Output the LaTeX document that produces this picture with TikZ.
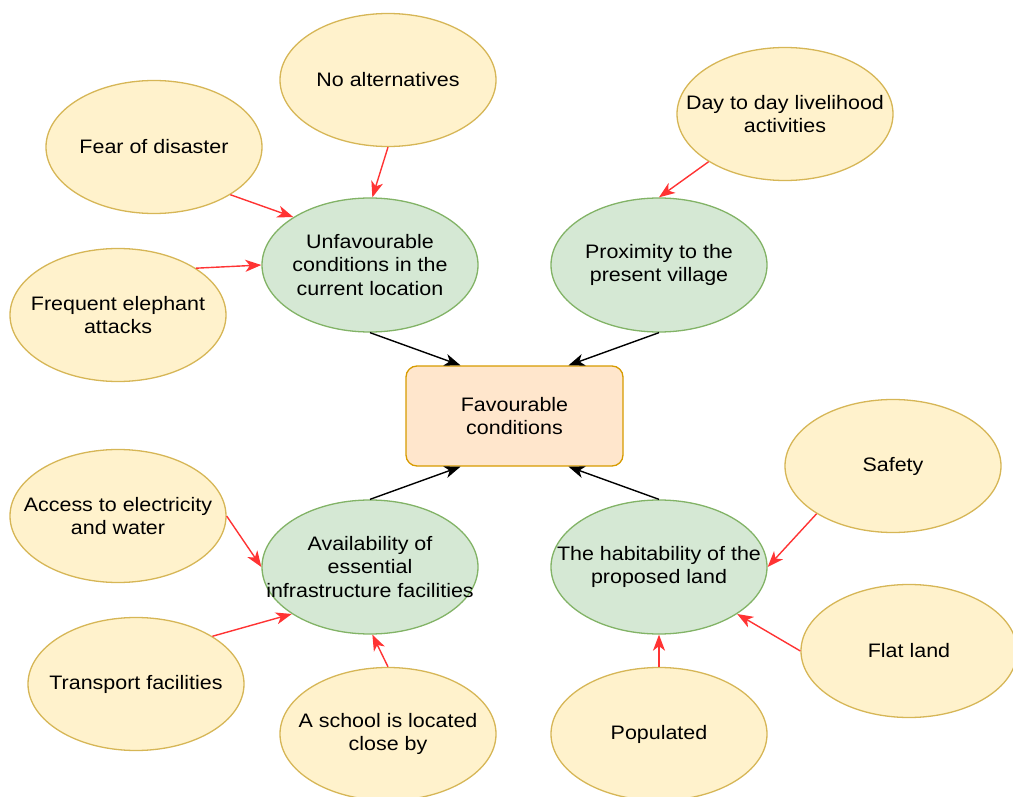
\documentclass[tikz,border=0pt]{standalone}
\usepackage{fontspec}
\setmainfont[FakeStretch=1.1]{Liberation Sans}
\usetikzlibrary{shapes.geometric,arrows.meta,calc}
\definecolor{yfill}{HTML}{FFF2CC}
\definecolor{ydraw}{HTML}{D6B656}
\definecolor{gfill}{HTML}{D5E8D4}
\definecolor{gdraw}{HTML}{82B366}
\definecolor{ofill}{HTML}{FFE6CC}
\definecolor{odraw}{HTML}{D79B00}
\definecolor{redarr}{HTML}{FF3333}
\tikzset{
  base/.style={align=center,font=\fontsize{19.5}{23.5}\selectfont,inner sep=0pt,line width=1.3pt},
  yell/.style={base,ellipse,inner xsep=-70pt,inner ysep=-10pt,fill=yfill,draw=ydraw,minimum width=216pt,minimum height=133pt},
  gell/.style={base,ellipse,inner xsep=-70pt,inner ysep=-10pt,fill=gfill,draw=gdraw,minimum width=216pt,minimum height=134pt},
  favbox/.style={base,rectangle,rounded corners=11pt,fill=ofill,draw=odraw,minimum width=217pt,minimum height=100pt},
  redlink/.style={draw=redarr,line width=1.4pt,-{Stealth[length=16pt,width=12pt,inset=4.5pt]}},
  blacklink/.style={draw=black,line width=1.4pt,-{Stealth[length=16pt,width=12pt,inset=4.5pt]}}
}
\begin{document}
\begin{tikzpicture}[x=1pt,y=-1pt]
\useasboundingbox (0,0) rectangle (1013,797);
\clip (0,0) rectangle (1013,797);
% yellow ellipses
\node[yell] (noalt) at (388,80) {No alternatives};
\node[yell] (fear) at (154,147) {Fear of disaster};
\node[yell] (eleph) at (118,315) {Frequent elephant\\attacks};
\node[yell] (daily) at (785,114) {Day to day livelihood\\activities};
\node[yell] (safety) at (893,466) {Safety};
\node[yell] (flat) at (909,651) {Flat land};
\node[yell] (popul) at (659,734) {Populated};
\node[yell] (school) at (388,734) {A school is located\\close by};
\node[yell] (transp) at (136,684) {Transport facilities};
\node[yell] (access) at (118,516) {Access to electricity\\and water};
% green ellipses
\node[gell] (unfav) at (370,265) {Unfavourable\\conditions in the\\current location};
\node[gell] (prox) at (659,265) {Proximity to the\\present village};
\node[gell] (avail) at (370,567) {Availability of\\essential\\infrastructure facilities};
\node[gell] (habit) at (659,567) {The habitability of the\\proposed land};
% centre box
\node[favbox] (fav) at (514.5,416) {Favourable\\conditions};
% red arrows
\draw[redlink] (fear.-32) -- (unfav.148);
\draw[redlink] (noalt.-90) -- (unfav.88);
\draw[redlink] (eleph.31) -- (unfav.180);
\draw[redlink] (daily.212) -- (prox.90);
\draw[redlink] (access.0) -- (avail.180);
\draw[redlink] (transp.32) -- (avail.211);
\draw[redlink] (school.90) -- (avail.-88);
\draw[redlink] (popul.90) -- (habit.-90);
\draw[redlink] (flat.180) -- (habit.-31);
\draw[redlink] (safety.212) -- (habit.0);
% black arrows
\draw[blacklink] (unfav.-90) -- ([xshift=-54pt]fav.north);
\draw[blacklink] (prox.-90) -- ([xshift=54pt]fav.north);
\draw[blacklink] (avail.90) -- ([xshift=-54pt]fav.south);
\draw[blacklink] (habit.90) -- ([xshift=54pt]fav.south);
\end{tikzpicture}
\end{document}
